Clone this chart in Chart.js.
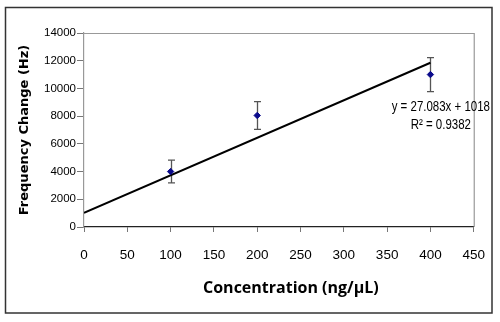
<!DOCTYPE html>
<html>
<head>
<meta charset="utf-8">
<script src="https://cdn.jsdelivr.net/npm/chart.js@4/dist/chart.umd.min.js"></script>
<style>
  html, body { margin: 0; padding: 0; background: #fff; }
  #wrap { width: 500px; height: 322px; position: relative; }
</style>
</head>
<body>
<div id="wrap"><canvas id="c" width="500" height="322"></canvas></div>
<script>
// ---- Data ----
const concentrations = [100, 200, 400];          // ng/µL
const freqChange     = [4000, 8050, 11000];      // Hz
const freqError      = [820, 1000, 1230];        // Hz (± error bar)
const trendSlope     = 27.083;
const trendIntercept = 1018;
const trendRange     = [0, 400];
const equationText   = 'y = 27.083x + 1018';
const r2Text         = 'R² = 0.9382';
const xTitle         = 'Concentration (ng/µL)';
const yTitle         = 'Frequency Change (Hz)';

const points = concentrations.map((x, i) => ({ x: x, y: freqChange[i] }));
const trend  = trendRange.map(x => ({ x: x, y: trendSlope * x + trendIntercept }));

const sans = '"Liberation Sans", Arial, sans-serif';

const framePlugin = {
  id: 'frame',
  beforeDraw(chart) {
    const ctx = chart.ctx;
    ctx.save();
    ctx.fillStyle = '#fff';
    ctx.fillRect(0, 0, chart.width, chart.height);
    ctx.strokeStyle = '#333';
    ctx.lineWidth = 1.5;
    ctx.strokeRect(5.5, 7.5, 486.5, 305.5);
    ctx.restore();
  },
  beforeDatasetsDraw(chart) {
    const ctx = chart.ctx, a = chart.chartArea;
    ctx.save();
    ctx.strokeStyle = '#999';
    ctx.lineWidth = 1.2;
    ctx.beginPath();
    ctx.moveTo(a.left, a.top + 0.5);
    ctx.lineTo(a.right + 0.5, a.top + 0.5);
    ctx.lineTo(a.right + 0.5, a.bottom);
    ctx.stroke();
    // error bars
    const xs = chart.scales.x, ys = chart.scales.y;
    ctx.strokeStyle = '#555';
    ctx.lineWidth = 1.3;
    concentrations.forEach((c, i) => {
      const px = Math.round(xs.getPixelForValue(c)) + 0.5;
      const yt = ys.getPixelForValue(freqChange[i] + freqError[i]);
      const yb = ys.getPixelForValue(freqChange[i] - freqError[i]);
      ctx.beginPath();
      ctx.moveTo(px, yt); ctx.lineTo(px, yb);
      ctx.moveTo(px - 3.5, yt); ctx.lineTo(px + 3.5, yt);
      ctx.moveTo(px - 3.5, yb); ctx.lineTo(px + 3.5, yb);
      ctx.stroke();
    });
    ctx.restore();
  },
  afterDraw(chart) {
    const ctx = chart.ctx;
    const xs = chart.scales.x, ys = chart.scales.y, a = chart.chartArea;
    ctx.save();
    ctx.fillStyle = '#000';
    ctx.textAlign = 'center';
    ctx.textBaseline = 'middle';
    // trendline label, slightly condensed like the original
    ctx.font = '14px ' + sans;
    const cx = xs.getPixelForValue(412);
    const drawCondensed = (t, x, y) => {
      ctx.save();
      ctx.translate(x, y);
      ctx.scale(0.82, 1);
      ctx.fillText(t, 0, 0);
      ctx.restore();
    };
    drawCondensed(equationText, cx, ys.getPixelForValue(8660));
    drawCondensed(r2Text, cx, ys.getPixelForValue(7320));
    // x-axis title
    ctx.font = 'bold 16px "Open Sans", Lato, sans-serif';
    ctx.fillText(xTitle, (a.left + a.right) / 2 + 12, 288);
    ctx.restore();
  }
};

new Chart(document.getElementById('c'), {
  type: 'scatter',
  data: {
    datasets: [
      {
        label: 'Trend',
        type: 'line',
        data: trend,
        borderColor: '#000',
        borderWidth: 2,
        pointRadius: 0,
        fill: false,
        order: 2
      },
      {
        label: 'Frequency change',
        data: points,
        backgroundColor: '#0a0a8c',
        borderColor: '#0a0a8c',
        pointStyle: 'rectRot',
        pointRadius: 3.2,
        order: 1
      }
    ]
  },
  options: {
    responsive: false,
    animation: false,
    devicePixelRatio: 1,
    layout: { padding: { left: 0, right: 25, top: 33, bottom: 0 } },
    plugins: { legend: { display: false }, tooltip: { enabled: false } },
    scales: {
      x: {
        type: 'linear',
        min: 0, max: 450,
        afterFit(s) { s.height = 95; },
        ticks: {
          stepSize: 50,
          color: '#000',
          padding: 15,
          maxRotation: 0,
          format: { useGrouping: false },
          font: { family: sans, size: 13.5 }
        },
        grid: { display: true, drawOnChartArea: false, drawTicks: true, tickLength: 5, tickColor: '#777' },
        border: { display: true, color: '#222', width: 1.3 },
        title: { display: false, text: xTitle }
      },
      y: {
        type: 'linear',
        min: 0, max: 14000,
        afterFit(s) { s.width = 84; },
        ticks: {
          stepSize: 2000,
          color: '#000',
          padding: 1,
          format: { useGrouping: false },
          font: { family: sans, size: 11.5 }
        },
        grid: { display: true, drawOnChartArea: false, drawTicks: true, tickLength: 7, tickColor: '#777' },
        border: { display: true, color: '#999', width: 1.2 },
        title: {
          display: true,
          text: yTitle,
          color: '#000',
          font: { family: '"DejaVu Sans", Verdana, sans-serif', size: 13, weight: 'bold' },
          padding: { top: 17, bottom: 0 }
        }
      }
    }
  },
  plugins: [framePlugin]
});
</script>
</body>
</html>
